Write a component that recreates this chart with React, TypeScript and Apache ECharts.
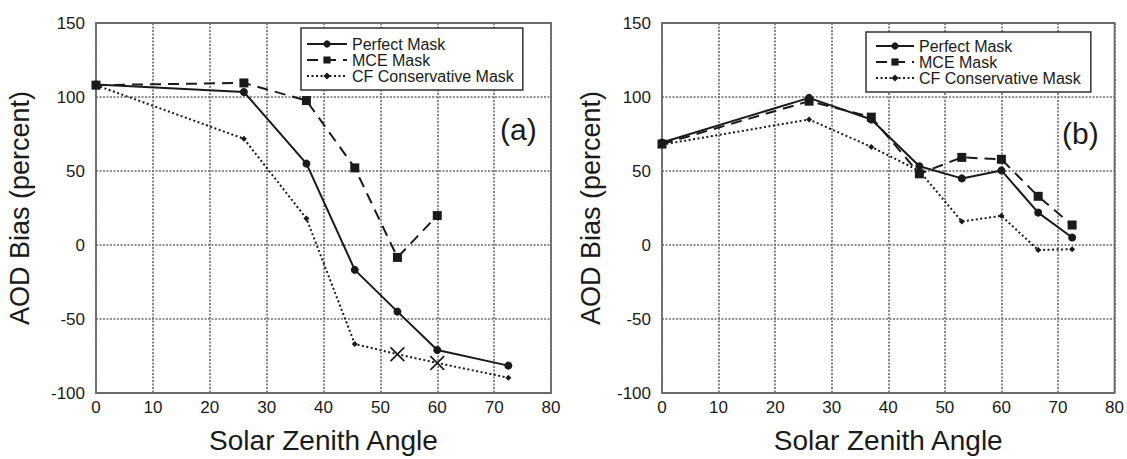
import React, { useEffect, useRef } from "react";
import * as echarts from "echarts";

const legendNames = ["Perfect Mask", "MCE Mask", "CF Conservative Mask"];
const xTicks = [0, 10, 20, 30, 40, 50, 60, 70, 80];
const yTicks = [-100, -50, 0, 50, 100, 150];

// Panel (a)
const aPerfectX = [0, 26, 37, 45.5, 53, 60, 72.5];
const aPerfectY = [108.4, 103.4, 55, -16.8, -45, -70.9, -81.5];
const aMceX = [0, 26, 37, 45.5, 53, 60];
const aMceY = [108, 109.5, 97.6, 52.1, -8.4, 19.9];
const aCfX = [0, 26, 37, 45.5, 53, 60, 72.5];
const aCfY = [108, 71.8, 17.9, -66.9, -73.8, -79.7, -89.7];
const aCfCross = [false, false, false, false, true, true, false];

// Panel (b)
const bPerfectX = [0, 26, 37, 45.5, 53, 60, 66.5, 72.5];
const bPerfectY = [69.3, 99.4, 84.8, 53.2, 45, 50.4, 21.9, 5.1];
const bMceX = [0, 26, 37, 45.5, 53, 60, 66.5, 72.5];
const bMceY = [68.2, 97.2, 86.4, 48.1, 59.2, 57.9, 32.9, 13.5];
const bCfX = [0, 26, 37, 45.5, 53, 60, 66.5, 72.5];
const bCfY = [67.8, 84.8, 66.3, 50, 15.9, 19.7, -3.4, -2.8];

const FONT = "Liberation Sans, Arial, sans-serif";
const INK = "#1a1a1a";
const GRIDC = "#6a6a6a";
const CROSS =
  "path://M0,0.8 L0.8,0 L5,4.2 L9.2,0 L10,0.8 L5.8,5 L10,9.2 L9.2,10 L5,5.8 L0.8,10 L0,9.2 L4.2,5 Z";

function pts(xs: number[], ys: number[]) {
  return xs.map((x, i) => [x, ys[i]]);
}

function makeSeries(idx: number, xs: number[][], ys: number[][], cross?: boolean[]) {
  const [px, mx, cx] = xs;
  const [py, my, cy] = ys;
  const cfData = pts(cx, cy).map((p, i) =>
    cross && cross[i]
      ? { value: p, symbol: CROSS, symbolSize: 15 }
      : { value: p }
  );
  return [
    {
      name: legendNames[0],
      type: "line",
      xAxisIndex: idx,
      yAxisIndex: idx,
      data: pts(px, py),
      symbol: "circle",
      symbolSize: 8,
      itemStyle: { color: INK },
      lineStyle: { color: INK, width: 2, type: "solid" },
      z: 5,
    },
    {
      name: legendNames[1],
      type: "line",
      xAxisIndex: idx,
      yAxisIndex: idx,
      data: pts(mx, my),
      symbol: "rect",
      symbolSize: 9,
      itemStyle: { color: INK },
      lineStyle: { color: INK, width: 2, type: [11, 7] },
      z: 4,
    },
    {
      name: legendNames[2],
      type: "line",
      xAxisIndex: idx,
      yAxisIndex: idx,
      data: cfData,
      symbol: "diamond",
      symbolSize: 6,
      itemStyle: { color: INK },
      lineStyle: { color: INK, width: 2, type: [2, 2.5] },
      z: 3,
    },
  ];
}

function axisPair(gridIndex: number, yNameGap: number) {
  const x = {
    type: "value",
    gridIndex,
    min: xTicks[0],
    max: xTicks[xTicks.length - 1],
    interval: 10,
    name: "Solar Zenith Angle",
    nameLocation: "middle",
    nameGap: 33,
    nameTextStyle: { fontSize: 28, color: INK, fontFamily: FONT },
    axisLine: { show: false },
    axisTick: { show: false },
    axisLabel: { fontSize: 17, color: INK, fontFamily: FONT, margin: 6 },
    splitLine: { show: true, lineStyle: { color: GRIDC, width: 1.6, type: [2, 1.5] } },
  };
  const y = {
    type: "value",
    gridIndex,
    min: yTicks[0],
    max: yTicks[yTicks.length - 1],
    interval: 50,
    name: "AOD Bias (percent)",
    nameLocation: "middle",
    nameGap: yNameGap,
    nameRotate: 90,
    nameTextStyle: { fontSize: 27, color: INK, fontFamily: FONT },
    axisLine: { show: false },
    axisTick: { show: false },
    axisLabel: { fontSize: 17, color: INK, fontFamily: FONT, margin: 11 },
    splitLine: { show: true, lineStyle: { color: GRIDC, width: 1.6, type: [2, 1.5] } },
  };
  return { x, y };
}

function legendAt(left: number, top: number, iw: number, padding: number[]) {
  return {
    orient: "vertical",
    left,
    top,
    data: legendNames,
    itemGap: 0,
    itemWidth: iw,
    itemHeight: 9,
    padding,
    borderColor: "#333",
    borderWidth: 1.5,
    backgroundColor: "#fff",
    selectedMode: false,
    textStyle: { fontSize: 16, lineHeight: 16, color: INK, fontFamily: FONT },
  };
}

export default function App() {
  const ref = useRef<HTMLDivElement>(null);
  useEffect(() => {
    document.body.style.margin = "0";
    if (!ref.current) return;
    const chart = echarts.init(ref.current, undefined, { renderer: "svg" });
    const a = axisPair(0, 63);
    const b = axisPair(1, 58);
    chart.setOption({
      animation: false,
      backgroundColor: "#fff",
      grid: [
        { left: 96, right: 1127 - 551, top: 23, bottom: 459 - 401, show: true, borderColor: GRIDC, borderWidth: 1.8 },
        { left: 662, right: 1127 - 1117, top: 23, bottom: 459 - 401, show: true, borderColor: GRIDC, borderWidth: 1.8 },
      ],
      xAxis: [a.x, b.x],
      yAxis: [a.y, b.y],
      legend: [
        legendAt(301, 28, 40, [8, 9, 6, 5]),
        legendAt(866, 32, 38, [6, 10, 6, 9]),
      ],
      graphic: [
        { type: "text", left: 500, top: 114, z: 10, style: { text: "(a)", fontSize: 30, fill: INK, fontFamily: FONT } },
        { type: "text", left: 1062, top: 118, z: 10, style: { text: "(b)", fontSize: 30, fill: INK, fontFamily: FONT } },
      ],
      series: [
        ...makeSeries(0, [aPerfectX, aMceX, aCfX], [aPerfectY, aMceY, aCfY], aCfCross),
        ...makeSeries(1, [bPerfectX, bMceX, bCfX], [bPerfectY, bMceY, bCfY]),
      ],
    });
    return () => chart.dispose();
  }, []);
  return <div ref={ref} style={{ width: 1127, height: 459 }} />;
}
